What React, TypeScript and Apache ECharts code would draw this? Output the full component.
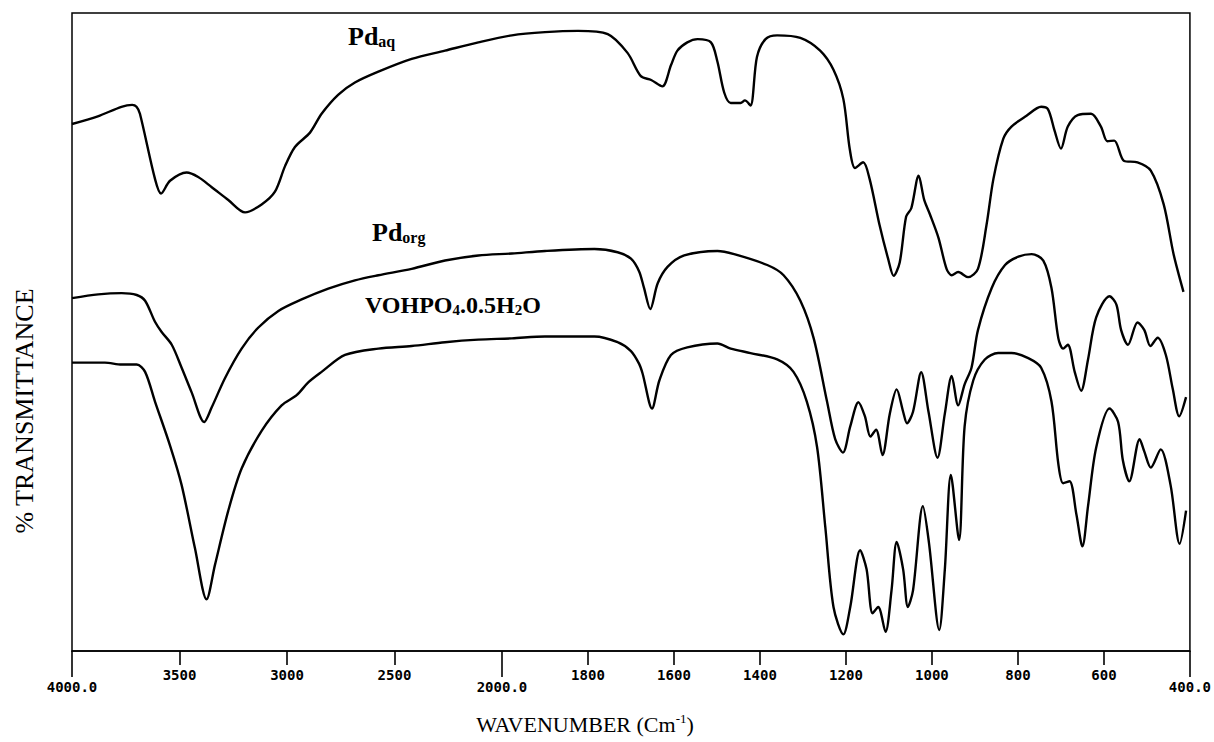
import React, { useEffect, useRef } from "react";
import * as echarts from "echarts";

// Wavenumbers (cm-1) and % transmittance (0 = bottom of frame, 100 = top)
const pdAqWave = [4000, 3880, 3770, 3720, 3700, 3684, 3614, 3586, 3544, 3467, 3413, 3350, 3273, 3195, 3118, 3056, 3009, 2963, 2893, 2839, 2761, 2684, 2575, 2420, 2265, 2110, 1977, 1900, 1823, 1754, 1708, 1677, 1653, 1627, 1607, 1592, 1569, 1545, 1514, 1499, 1483, 1468, 1445, 1435, 1422, 1407, 1387, 1360, 1306, 1260, 1229, 1206, 1191, 1179, 1160, 1145, 1122, 1102, 1089, 1075, 1060, 1048, 1031, 1018, 1005, 985, 966, 954, 939, 916, 893, 873, 857, 834, 815, 780, 746, 730, 715, 700, 684, 661, 630, 607, 592, 576, 553, 522, 491, 461, 438, 415];
const pdAqT = [82.6, 83.8, 85.3, 85.6, 85.3, 84.2, 74, 71.7, 73.7, 75, 74.3, 72.7, 70.7, 68.75, 70, 72, 76, 79, 81.25, 84.2, 87.2, 89.1, 90.8, 92.8, 94.1, 95.4, 96.5, 97, 97.2, 96.7, 93.75, 90.1, 89.5, 88.5, 91.8, 94.1, 95.4, 95.9, 95.4, 92.4, 87.5, 85.9, 85.9, 86.3, 85.5, 93.1, 95.9, 96.5, 96.1, 94.1, 91.1, 86.5, 78.6, 75.7, 76.6, 74, 66.8, 61.5, 58.8, 60.9, 68.1, 69.4, 74.5, 70.7, 68.5, 64.8, 59.9, 58.9, 59.4, 58.6, 59.9, 66.8, 74, 80.3, 82.2, 83.9, 85.3, 84.9, 81.6, 78.75, 82.2, 84, 84.2, 82.2, 79.9, 80, 76.8, 76.6, 75.3, 70, 62.2, 56.3];

const pdOrgWave = [4000, 3878, 3769, 3699, 3660, 3614, 3583, 3536, 3490, 3443, 3385, 3350, 3288, 3211, 3133, 3040, 2932, 2808, 2684, 2575, 2420, 2265, 2110, 1977, 1900, 1785, 1731, 1700, 1681, 1670, 1655, 1638, 1615, 1576, 1499, 1460, 1383, 1345, 1306, 1275, 1244, 1225, 1207, 1190, 1171, 1156, 1143, 1130, 1115, 1098, 1082, 1067, 1058, 1044, 1025, 1008, 987, 970, 954, 939, 924, 908, 893, 861, 830, 799, 768, 741, 722, 706, 695, 684, 668, 653, 637, 618, 587, 571, 560, 544, 522, 506, 492, 475, 456, 440, 425, 409];
const pdOrgT = [55.3, 55.9, 56.1, 55.8, 54.9, 51.6, 50, 48, 44.4, 40.5, 35.9, 38.2, 42.8, 47.4, 50.7, 53.3, 55.1, 56.8, 58.1, 58.9, 59.9, 61.2, 62, 62.3, 62.7, 63, 62.5, 61.5, 59.5, 57, 53.6, 57.6, 60.2, 62, 62.7, 62.2, 60.5, 58.9, 54.9, 49, 39.1, 33.2, 31.1, 35.2, 39, 36.8, 33.6, 34.7, 30.7, 37.2, 41, 37.5, 35.7, 37.5, 43.7, 37.5, 30.3, 37.2, 43.1, 38.5, 41.8, 44.4, 50.3, 56.9, 60.5, 61.8, 62.2, 61.2, 56.9, 49, 47.4, 48, 43.75, 40.8, 45.7, 52.3, 55.6, 54.3, 50.3, 48, 51.5, 50.3, 47.8, 49.1, 46.4, 41.1, 36.8, 39.8];

const vohpoWave = [4000, 3847, 3769, 3699, 3660, 3614, 3544, 3490, 3428, 3374, 3335, 3273, 3211, 3118, 3025, 2955, 2901, 2839, 2730, 2575, 2420, 2265, 2110, 1977, 1900, 1785, 1731, 1700, 1681, 1673, 1651, 1634, 1607, 1569, 1499, 1468, 1422, 1360, 1322, 1291, 1267, 1248, 1229, 1206, 1190, 1167, 1152, 1138, 1125, 1108, 1094, 1082, 1067, 1056, 1044, 1021, 1007, 983, 970, 956, 937, 924, 904, 877, 846, 815, 776, 746, 722, 706, 695, 680, 664, 650, 637, 618, 587, 567, 556, 541, 517, 506, 491, 468, 445, 424, 409];
const vohpoT = [45.2, 45.2, 44.9, 44.9, 43.75, 39.1, 32.2, 26, 16.1, 8.1, 13.5, 22, 28.6, 34.5, 38.5, 40.1, 42.1, 43.75, 46.4, 47.4, 47.8, 48.4, 48.8, 49, 49.3, 49.3, 48.4, 47, 45, 43.5, 38, 42.4, 46.4, 47.6, 48.2, 47.4, 46.7, 45.7, 43.75, 39.1, 31.9, 19.4, 6.9, 2.6, 6.9, 15.8, 12.8, 5.9, 6.9, 3, 9.5, 17.1, 12.8, 6.9, 9.5, 22.7, 17, 3.3, 12.8, 27.6, 17.4, 35.2, 42.4, 45.7, 46.7, 46.7, 45.9, 44.4, 39.1, 29.3, 26.3, 26.6, 21.4, 16.4, 22.7, 31.9, 38, 35.9, 29.9, 26.6, 33.2, 31.25, 28.75, 31.6, 26, 16.8, 22];

const minorTickWaves = [3500, 3000, 2500, 1800, 1600, 1400, 1200, 1000, 800, 600];
const majorTickWaves = [4000, 2000, 400];

// The instrument's abscissa changes scale at 2000 cm-1 (half scale above it)
const toAxis = (w: number) => (w > 2000 ? 2000 + (w - 2000) / 2 : w);
const fromAxis = (v: number) => (v > 2000 ? 2000 + (v - 2000) * 2 : v);
const pairs = (ws: number[], ts: number[]) => ws.map((w, i) => [toAxis(w), ts[i]]);

const SERIF = '"Liberation Serif", "Times New Roman", serif';
const MONO = '"DejaVu Sans Mono", monospace';

export default function App() {
  const ref = useRef<HTMLDivElement>(null);
  useEffect(() => {
    if (!ref.current) return;
    const chart = echarts.init(ref.current, undefined, { renderer: "svg" });
    const lineSeries = (name: string, ws: number[], ts: number[]) => ({
      name,
      type: "line",
      data: pairs(ws, ts),
      showSymbol: false,
      symbol: "none",
      smooth: 0.3,
      lineStyle: { color: "#000", width: 2.4 },
      xAxisIndex: 0,
      yAxisIndex: 0,
    });
    chart.setOption({
      animation: false,
      backgroundColor: "#fff",
      grid: {
        left: 72,
        right: 21,
        top: 13,
        bottom: 91,
        show: true,
        borderColor: "#000",
        borderWidth: 1.5,
        backgroundColor: "transparent",
      },
      xAxis: [
        {
          type: "value",
          inverse: true,
          min: 400,
          max: 3000,
          position: "bottom",
          axisLine: { show: true, lineStyle: { color: "#000", width: 1.6 } },
          axisTick: {
            show: true,
            customValues: minorTickWaves.map(toAxis),
            length: 14,
            lineStyle: { color: "#000", width: 1.6 },
          },
          axisLabel: {
            customValues: minorTickWaves.map(toAxis),
            formatter: (v: number) => String(Math.round(fromAxis(v))),
            margin: 17,
            fontFamily: MONO,
            fontWeight: "bold",
            fontSize: 14,
            color: "#000",
          },
          splitLine: { show: false },
        },
        {
          type: "value",
          inverse: true,
          min: 400,
          max: 3000,
          position: "bottom",
          axisLine: { show: false },
          axisTick: {
            show: true,
            customValues: majorTickWaves.map(toAxis),
            length: 26,
            lineStyle: { color: "#000", width: 1.6 },
          },
          axisLabel: {
            customValues: majorTickWaves.map(toAxis),
            formatter: (v: number) => fromAxis(v).toFixed(1),
            margin: 29,
            fontFamily: MONO,
            fontWeight: "bold",
            fontSize: 14,
            color: "#000",
          },
          splitLine: { show: false },
        },
      ],
      yAxis: {
        type: "value",
        min: 0,
        max: 100,
        show: false,
      },
      series: [
        lineSeries("Pd aq", pdAqWave, pdAqT),
        lineSeries("Pd org", pdOrgWave, pdOrgT),
        lineSeries("VOHPO4.0.5H2O", vohpoWave, vohpoT),
      ],
      graphic: [
        {
          type: "text",
          left: 348,
          top: 23,
          style: {
            text: "{m|Pd}{s|aq}",
            rich: {
              m: { fontFamily: SERIF, fontWeight: "bold", fontSize: 26, lineHeight: 26, fill: "#000" },
              s: { fontFamily: SERIF, fontWeight: "bold", fontSize: 16, lineHeight: 16, verticalAlign: "bottom", fill: "#000" },
            },
          },
        },
        {
          type: "text",
          left: 372,
          top: 219,
          style: {
            text: "{m|Pd}{s|org}",
            rich: {
              m: { fontFamily: SERIF, fontWeight: "bold", fontSize: 26, lineHeight: 26, fill: "#000" },
              s: { fontFamily: SERIF, fontWeight: "bold", fontSize: 16, lineHeight: 16, verticalAlign: "bottom", fill: "#000" },
            },
          },
        },
        {
          type: "text",
          left: 365,
          top: 293,
          style: {
            text: "{m|VOHPO}{s|4}{m|.0.5H}{s|2}{m|O}",
            rich: {
              m: { fontFamily: SERIF, fontWeight: "bold", fontSize: 24, lineHeight: 24, fill: "#000" },
              s: { fontFamily: SERIF, fontWeight: "bold", fontSize: 15, lineHeight: 15, verticalAlign: "bottom", fill: "#000" },
            },
          },
        },
        {
          type: "text",
          x: 585,
          y: 724,
          style: {
            text: "{m|WAVENUMBER (Cm}{s|-1}{m|)}",
            align: "center",
            verticalAlign: "middle",
            rich: {
              m: { fontFamily: SERIF, fontSize: 22, lineHeight: 24, fill: "#000" },
              s: { fontFamily: SERIF, fontSize: 13, lineHeight: 13, verticalAlign: "top", fill: "#000" },
            },
          },
        },
        {
          type: "text",
          x: 24,
          y: 411,
          rotation: Math.PI / 2,
          style: {
            text: "% TRANSMITTANCE",
            align: "center",
            verticalAlign: "middle",
            font: `26px ${SERIF}`,
            fill: "#000",
          },
        },
      ],
    });
    return () => chart.dispose();
  }, []);
  return (
    <div
      ref={ref}
      style={{ position: "fixed", left: 0, top: 0, width: 1214, height: 742 }}
    />
  );
}
